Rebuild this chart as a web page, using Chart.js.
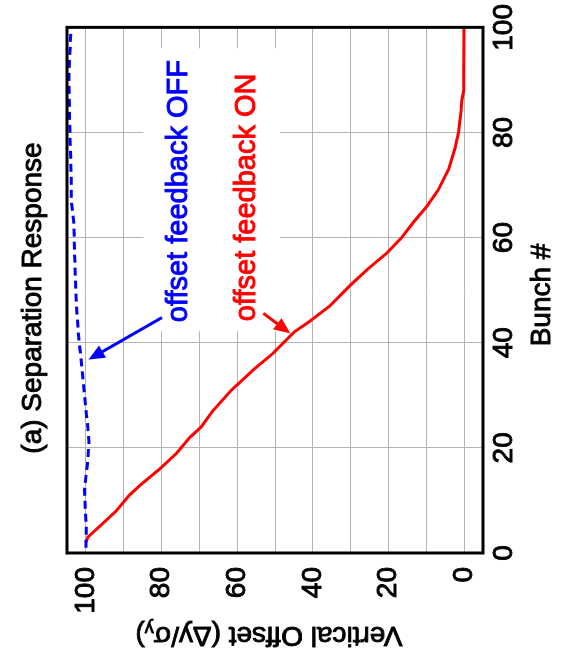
<!DOCTYPE html>
<html>
<head>
<meta charset="utf-8">
<script src="https://cdn.jsdelivr.net/npm/chart.js@4"></script>
<style>
  html, body { margin: 0; padding: 0; background: #fff; }
  #page { position: relative; width: 562px; height: 656px; overflow: hidden; }
  /* the plot is drawn upright, then turned a quarter turn to the left */
  #turn { position: absolute; left: 0; top: 0; width: 656px; height: 562px;
          transform-origin: 0 0; transform: translate(0, 656px) rotate(-90deg); }
</style>
</head>
<body>
<div id="page"><div id="turn"><canvas id="sepChart" width="656" height="562"></canvas></div></div>
<script>
// offset feedback ON (red, solid)
const bunchOn  = [2, 3, 5, 8, 11, 13, 16, 19, 22, 24, 27, 31, 35, 38, 42, 44, 47, 51, 54, 57, 60, 63, 66, 69, 73, 77, 80, 84, 86, 88, 92, 100];
const offsetOn = [100, 99.5, 96.5, 92, 88.5, 85.5, 80.5, 76, 72.5, 69.5, 66.5, 61.5, 55.5, 50.5, 45, 41, 35.5, 30, 25.5, 20.5, 16.5, 13.3, 9.8, 6.9, 4.1, 2.4, 1.5, 0.8, 0.6, 0.1, 0.1, 0];

// offset feedback OFF (blue, dashed)
const bunchOff  = [1, 5, 12, 17, 21, 24, 28, 35, 41, 47, 57, 63, 67, 72, 82, 91, 99];
const offsetOff = [100, 99.9, 100.4, 99.6, 99.2, 99.5, 100.1, 101, 101.9, 102.5, 103, 103.2, 103.9, 103.9, 104.3, 104.5, 104];

const bunchTicks = [0, 20, 40, 60, 80, 100];
const offsetTicks = [0, 10, 20, 30, 40, 50, 60, 70, 80, 90, 100];

const FONT = '"Liberation Sans", Arial, Helvetica, sans-serif';

function toPoints(xs, ys) {
  return xs.map((x, i) => ({ x: x, y: ys[i] }));
}

// filled text with a thin outline so it reads as heavy as the original
function heavyText(ctx, text, x, y, color) {
  ctx.fillStyle = color;
  ctx.strokeStyle = color;
  ctx.lineWidth = 0.9;
  ctx.fillText(text, x, y);
  ctx.strokeText(text, x, y);
}

function drawArrow(ctx, x0, y0, x1, y1, color) {
  const ang = Math.atan2(y1 - y0, x1 - x0);
  const len = 16, half = 7;
  ctx.save();
  ctx.strokeStyle = color;
  ctx.fillStyle = color;
  ctx.lineWidth = 3;
  ctx.beginPath();
  ctx.moveTo(x0, y0);
  ctx.lineTo(x1 - Math.cos(ang) * len * 0.8, y1 - Math.sin(ang) * len * 0.8);
  ctx.stroke();
  ctx.beginPath();
  ctx.moveTo(x1, y1);
  ctx.lineTo(x1 - Math.cos(ang) * len - Math.sin(ang) * half, y1 - Math.sin(ang) * len + Math.cos(ang) * half);
  ctx.lineTo(x1 - Math.cos(ang) * len + Math.sin(ang) * half, y1 - Math.sin(ang) * len - Math.cos(ang) * half);
  ctx.closePath();
  ctx.fill();
  ctx.restore();
}

const annotate = {
  id: 'annotate',
  beforeDatasetsDraw(chart) {
    const { ctx, scales: { x, y } } = chart;
    // white patch under the two labels hides the grid there
    const l = x.getPixelForValue(42.2), r = x.getPixelForValue(96);
    const t = y.getPixelForValue(84.8), b = y.getPixelForValue(48.6);
    ctx.save();
    ctx.fillStyle = '#fff';
    ctx.fillRect(l, t, r - l, b - t);
    ctx.restore();
  },
  afterDatasetsDraw(chart) {
    const { ctx, chartArea: a, scales: { x, y } } = chart;
    ctx.save();
    ctx.font = '29px ' + FONT;
    ctx.textAlign = 'left';
    ctx.textBaseline = 'middle';
    heavyText(ctx, 'offset feedback OFF', x.getPixelForValue(43.9), y.getPixelForValue(75.3), '#0000ff');
    heavyText(ctx, 'offset feedback ON', x.getPixelForValue(44.1), y.getPixelForValue(57.3), '#ff0000');
    ctx.restore();

    drawArrow(ctx, x.getPixelForValue(44.8), y.getPixelForValue(79.9),
                   x.getPixelForValue(36.8), y.getPixelForValue(99.3), '#0000ff');
    drawArrow(ctx, x.getPixelForValue(45.6), y.getPixelForValue(53.1),
                   x.getPixelForValue(41.8), y.getPixelForValue(46.0), '#ff0000');

    // frame
    ctx.save();
    ctx.strokeStyle = '#000';
    ctx.lineWidth = 3;
    ctx.strokeRect(a.left, a.top, a.right - a.left, a.bottom - a.top);
    ctx.restore();
  },
  afterDraw(chart) {
    const { ctx } = chart;
    ctx.save();
    ctx.textBaseline = 'middle';
    ctx.textAlign = 'center';
    ctx.font = '28px ' + FONT;
    heavyText(ctx, '(a) Separation Response', 358, 33, '#000');
    heavyText(ctx, 'Bunch #', 361, 542, '#000');

    // y title with subscript, read bottom to top
    ctx.translate(21, 269);
    ctx.rotate(-Math.PI / 2);
    const main = 'Vertical Offset (\u0394y/\u03c3';
    ctx.font = '28px ' + FONT;
    const w1 = ctx.measureText(main).width;
    ctx.font = '18px ' + FONT;
    const w2 = ctx.measureText('y').width;
    ctx.font = '28px ' + FONT;
    const w3 = ctx.measureText(')').width;
    let sx = -(w1 + w2 + w3) / 2;
    ctx.textAlign = 'left';
    heavyText(ctx, main, sx, 0, '#000');
    sx += w1;
    ctx.font = '18px ' + FONT;
    heavyText(ctx, 'y', sx, 7, '#000');
    sx += w2;
    ctx.font = '28px ' + FONT;
    heavyText(ctx, ')', sx, 0, '#000');
    ctx.restore();
  }
};

const ctx = document.getElementById('sepChart').getContext('2d');
new Chart(ctx, {
  type: 'line',
  data: {
    datasets: [
      {
        label: 'offset feedback OFF',
        data: toPoints(bunchOff, offsetOff),
        borderColor: '#0000ff',
        borderWidth: 3,
        borderDash: [8, 5],
        pointRadius: 0,
        tension: 0,
        fill: false
      },
      {
        label: 'offset feedback ON',
        data: toPoints(bunchOn, offsetOn),
        borderColor: '#ff0000',
        borderWidth: 3,
        pointRadius: 0,
        tension: 0,
        fill: false
      }
    ]
  },
  options: {
    responsive: false,
    animation: false,
    layout: { padding: { top: 67, right: 24, left: 0, bottom: 0 } },
    plugins: {
      legend: { display: false },
      tooltip: { enabled: false },
      title: { display: false }
    },
    scales: {
      x: {
        type: 'linear',
        min: 0,
        max: 100,
        afterBuildTicks: (axis) => { axis.ticks = bunchTicks.map(v => ({ value: v })); },
        afterFit: (axis) => { axis.height = 79; },
        grid: { color: '#b4b4b4', lineWidth: 1, drawTicks: false },
        border: { display: false },
        ticks: {
          padding: 4, maxRotation: 0, autoSkip: false, color: '#000',
          textStrokeColor: '#000', textStrokeWidth: 0.9,
          font: { family: FONT, size: 28 }
        }
      },
      y: {
        type: 'linear',
        min: -5,
        max: 105,
        afterBuildTicks: (axis) => { axis.ticks = offsetTicks.map(v => ({ value: v })); },
        afterFit: (axis) => { axis.width = 103; },
        grid: { color: '#b4b4b4', lineWidth: 1, drawTicks: false },
        border: { display: false },
        ticks: {
          padding: 14,
          autoSkip: false,
          color: '#000',
          textStrokeColor: '#000', textStrokeWidth: 0.9,
          font: { family: FONT, size: 28 },
          callback: (v) => (v % 20 === 0 ? v : '')
        }
      }
    }
  },
  plugins: [annotate]
});
</script>
</body>
</html>
